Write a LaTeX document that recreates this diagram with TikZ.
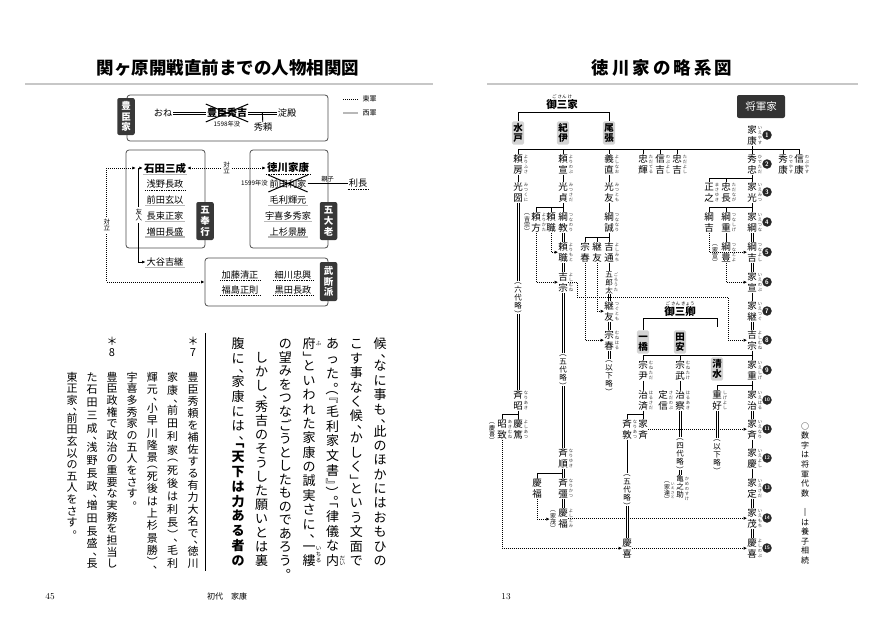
\documentclass[tikz,border=0pt]{standalone}
\usepackage{fontspec}
\usepackage{graphicx}
\usetikzlibrary{arrows.meta,positioning,calc}
\newfontfamily\jp{Noto Sans CJK JP}

% vertical column: one box per character
\makeatletter
\newcount\vc@k
\newdimen\vc@w \newdimen\vc@p
\newif\ifvc@j
\def\vcolfac{1.05}
\def\vc@end{\vc@end}
\def\vb{\vb}
\def\vc@strut{\vrule height.88\vc@w depth.12\vc@w width\z@}
\def\vc@rot#1{\rotatebox[origin=c]{-90}{\hbox to\vc@w{\vc@strut#1\hss}}}
\newcommand\vcol[2][]{%
  \ifx\relax#1\relax\vc@jfalse\let\vc@spec\empty\else\vc@jtrue\def\vc@spec{to#1}\fi
  \vbox\vc@spec{\vc@w=1em\vc@p=\vcolfac em\offinterlineskip
    \vc@loop#2\vc@end\ifvc@j\unskip\fi}}
\def\vc@loop#1{%
  \ifx#1\vc@end\let\vc@next\relax
  \else
    \ifx#1\vb\bfseries\else\vc@char#1\ifvc@j\vfil\fi\fi
    \let\vc@next\vc@loop
  \fi\vc@next}
\def\vc@char#1{%
  \vc@k=0
  \ifx#1、\vc@k=1 \fi\ifx#1。\vc@k=1 \fi
  \ifx#1「\vc@k=2 \fi\ifx#1『\vc@k=2 \fi\ifx#1（\vc@k=2 \fi
  \ifx#1」\vc@k=3 \fi\ifx#1』\vc@k=3 \fi\ifx#1）\vc@k=3 \fi
  \ifcase\vc@k
    \vbox to\vc@p{\vss\hbox to\vc@w{\hss\vc@strut#1\hss}\vss}%
  \or
    \vbox to.5\vc@p{\hbox to\vc@w{\kern.55\vc@w\lower.42\vc@w\hbox to\z@{\smash{#1}\hss}\hss}\vss}%
  \or
    \vbox to.5\vc@p{\vss\hbox to\vc@w{\hss\vc@rot{#1}\hss}\kern\z@}%
  \or
    \vbox to.5\vc@p{\hbox to\vc@w{\hss\vc@rot{#1}\hss}\vss\kern\z@}%
  \fi}
\makeatother

\newcommand\jfs[2]{\jp\fontsize{#1}{#1}\selectfont\def\vcolfac{#2}}
% chart person: name, x, top, kanji, reading
\newcommand\psn[5]{\node[nm] (#1) at (#2,#3) {\vcol{#4}};
  \node[rb] (#1r) at ([xshift=.6pt,yshift=-1pt]#1.north east) {\vcol{#5}};}
\newcommand\psnx[4]{\node[nm] (#1) at (#2,#3) {\vcol{#4}};}
% adoption (double) lines
\newcommand\vdbl[2]{\draw[ln2] ([xshift=-1.1pt]#1.south) -- ([xshift=-1.1pt]#2.north)
  ([xshift=1.1pt]#1.south) -- ([xshift=1.1pt]#2.north);}
\newcommand\hdbl[2]{\draw[ln2] ([yshift=1.1pt]#1.east) -- ([yshift=1.1pt]#2.west)
  ([yshift=-1.1pt]#1.east) -- ([yshift=-1.1pt]#2.west);}

\begin{document}
\begin{tikzpicture}[x=1pt,y=-1pt,>={Latex[length=3.4pt,width=3.2pt]},
 body/.style={anchor=north,inner sep=0pt,font=\jfs{13}{1.04}},
 note/.style={anchor=north,inner sep=0pt,font=\jfs{11}{1.06}},
 rbb/.style={inner sep=0pt,font=\jfs{5.5}{1.05}},
 nm/.style={anchor=north,inner sep=0pt,font=\jfs{9.5}{1.105}},
 rb/.style={anchor=north west,inner sep=0pt,text=black!80,font=\jfs{4.3}{1.15}},
 ann/.style={anchor=north,inner sep=0pt,font=\jfs{6}{1.1}},
 omit/.style={anchor=north,inner sep=0pt,font=\jfs{7.5}{1.1}},
 house/.style={fill=black!17,rounded corners=1.5pt,inner sep=1.4pt,font=\jfs{9.5}{1.07}\bfseries},
 gen/.style={circle,fill=black!85,text=white,inner sep=0pt,minimum size=9.5pt,font=\sffamily\bfseries\fontsize{6.5}{6.5}\selectfont},
 ln/.style={line width=.9pt},
 ln2/.style={line width=.75pt},
 dotarr/.style={dash pattern=on .8pt off 1.2pt,line width=.8pt,->},
 grp/.style={draw=black!70,line width=.8pt,rounded corners=3pt},
 dtab/.style={fill=black!78,text=white,rounded corners=2pt,inner xsep=4pt,inner ysep=2.5pt,font=\jfs{9.5}{1.12}\bfseries},
 pp/.style={inner sep=1pt,font=\jfs{9.2}{1}},
 wn/.style={pp,append after command={(\tikzlastnode.south west) edge[draw=black!28,line width=1.4pt] (\tikzlastnode.south east)}},
 en/.style={pp,append after command={(\tikzlastnode.south west) edge[draw=black,dash pattern=on .7pt off 1pt,line width=.7pt] (\tikzlastnode.south east)}},
 small/.style={inner sep=.5pt,font=\jfs{6.3}{1.05}},
 tz/.style={dash pattern=on .8pt off 1.2pt,line width=.8pt},
 title/.style={font=\jfs{17.5}{1}\bfseries}]
\useasboundingbox (0,0) rectangle (885,629);

% page heads
\node[title] (ttlL) at (228,68) {関ヶ原開戦直前までの人物相関図};
\node[title] (ttlR) at (662,68) {徳\kern3pt 川\kern3pt 家\kern3pt の\kern3pt 略\kern3pt 系\kern3pt 図};
\draw[black!22,line width=2pt] (25,84) -- (433,84);
\draw[black!22,line width=2pt] (487,84) -- (858,84);

%------------------- left page: relation chart
\node[grp,minimum width=201pt,minimum height=46pt] (toyo) at (227.5,118) {};
\node[dtab,minimum height=37pt] (toyotab) at (126,116.5) {\vcol{豊臣家}};
\node[pp] (one) at (163,113) {おね};
\node[pp,font=\jfs{10}{1}\bfseries] (hideyoshi) at (227,113) {豊臣秀吉};
\node[small] (dead1) at (227,124.5) {1598年没};
\node[pp] (yodo) at (287,113) {淀殿};
\node[pp] (hideyori) at (263,127.5) {秀頼};
\hdbl{one}{hideyoshi}
\hdbl{hideyoshi}{yodo}
\draw[ln] ($(hideyoshi.east)!.5!(yodo.west)$) -- (hideyori);
\draw[line width=1pt] ([yshift=3pt]hideyoshi.north west) -- ([yshift=-3pt]hideyoshi.south east)
  ([yshift=-3pt]hideyoshi.south west) -- ([yshift=3pt]hideyoshi.north east);

\node[small,anchor=west,font=\jfs{7}{1}] (legE) at (362,99) {東軍};
\node[small,anchor=west,font=\jfs{7}{1}] (legW) at (362,113) {西軍};
\draw[tz] ([xshift=-4pt]legE.west) -- ++(-15,0);
\draw[black!28,line width=1.4pt] ([xshift=-4pt]legW.west) -- ++(-15,0);

\node[grp,minimum width=79pt,minimum height=98pt] (bugyo) at (165.5,199) {};
\node[dtab,minimum height=38pt] (bugyotab) at (205,221) {\vcol{五奉行}};
\node[wn,font=\jfs{10.5}{1}\bfseries] (ishida) at (165,168) {石田三成};
\node[en] (asano) at (165,184.5) {浅野長政};
\node[wn] (maedag) at (165,200.2) {前田玄以};
\node[wn] (natsuka) at (165,216) {長束正家};
\node[wn] (mashita) at (165,231.7) {増田長盛};
\node[wn] (otani) at (165,262) {大谷吉継};

\node[grp,minimum width=78pt,minimum height=98pt] (tairo) at (289,199) {};
\node[dtab,minimum height=38pt] (tairotab) at (328.5,221) {\vcol{五大老}};
\node[en,font=\jfs{10.5}{1}\bfseries] (ieyasuL) at (288,168) {徳川家康};
\node[pp] (toshiie) at (288,183.5) {前田利家};
\node[small,anchor=east] (dead2) at (toshiie.west) {1599年没};
\node[en] (toshinaga) at (358,183.5) {利長};
\draw[ln] (toshiie) -- (toshinaga) node[midway,above=1pt,small] (oyako) {親子};
\draw[line width=1pt] ([yshift=3pt]toshiie.north west) -- ([yshift=-3pt]toshiie.south east)
  ([yshift=-3pt]toshiie.south west) -- ([yshift=3pt]toshiie.north east);
\node[wn] (mori) at (288,200) {毛利輝元};
\node[wn] (ukita) at (288,216) {宇喜多秀家};
\node[wn] (uesugi) at (288,231.7) {上杉景勝};

\node[grp,minimum width=123pt,minimum height=48pt] (buha) at (266.5,282) {};
\node[dtab,minimum height=39pt] (buhatab) at (328.5,281.5) {\vcol{武断派}};
\node[en] (kato) at (240,275) {加藤清正};
\node[en] (hosokawa) at (293,275) {細川忠興};
\node[en] (fukushima) at (240,290) {福島正則};
\node[en] (kuroda) at (293,290) {黒田長政};

\draw[tz,<->] (ishida) -- (ieyasuL) node[midway,fill=white,inner sep=1pt,font=\jfs{6.5}{1.05}] (tai1) {\vcol{対立}};
\coordinate (yujin) at ([xshift=-4pt]ishida.west);
\draw[ln,<->] (ishida.west) -- (yujin) |- (otani.west) node[pos=.25,fill=white,inner sep=1pt,font=\jfs{6.5}{1.05}] (yujinlbl) {\vcol{友人}};
\draw[tz,<->,shorten <=3pt] (yujin) -- ++(-32,0) |- (buha.west) node[pos=.25,fill=white,inner sep=1pt,font=\jfs{6.5}{1.05}] (tai2) {\vcol{対立}};

%------------------- left page: text
\node[body] (b1) at (380,337) {\vcol[230pt]{候、なに事も、此のほかにはおもひの}};
\node[body] (b2) at (356.3,337) {\vcol[230pt]{こす事なく候、かしく」という文面で}};
\node[body] (b3) at (332.7,337) {\vcol[230pt]{あった。（『毛利家文書』）。「律儀な内}};
\node[body] (b4) at (309,337) {\vcol[230pt]{府」といわれた家康の誠実さに、一縷}};
\node[body] (b5) at (285.3,337) {\vcol{の望みをつなごうとしたものであろう。}};
\node[body] (b6) at (261.7,337) {\vcol[230pt]{　しかし、秀吉のそうした願いとは裏}};
\node[body] (b7) at (238,337) {\vcol[230pt]{腹に、家康には、\vb「天下は力ある者の}};
\node[rbb,anchor=north west] (b4r1) at ([yshift=-3pt]b4.north east) {\vcol{ふ}};
\node[rbb,anchor=south west] (b3r) at ([yshift=.5pt]b3.south east) {\vcol{だい}};
\node[rbb,anchor=south west] (b4r2) at ([yshift=4pt]b4.south east) {\vcol{いちる}};
\draw[line width=.6pt] (205,333) -- (205,571);
\node[note] (s7) at (193,335) {\vcol{＊7}};
\node[note] (n1) at (193,371) {\vcol[198pt]{豊臣秀頼を補佐する有力大名で、徳川}};
\node[note] (n2) at (172.7,371) {\vcol[198pt]{家康、前田利家（死後は利長）、毛利}};
\node[note] (n3) at (152.4,371) {\vcol[198pt]{輝元、小早川隆景（死後は上杉景勝）、}};
\node[note] (n4) at (132.1,371) {\vcol{宇喜多秀家の五人をさす。}};
\node[note] (s8) at (112,335) {\vcol{＊8}};
\node[note] (n5) at (112,371) {\vcol[198pt]{豊臣政権で政治の重要な実務を担当し}};
\node[note] (n6) at (92,371) {\vcol[198pt]{た石田三成、浅野長政、増田長盛、長}};
\node[note] (n7) at (72,371) {\vcol{東正家、前田玄以の五人をさす。}};
\node[font=\rmfamily\fontsize{9}{9}\selectfont] (pg45) at (50,597) {45};
\node[font=\jfs{8}{1}] (runhead) at (227,596) {初代　家康};
\node[font=\rmfamily\fontsize{9}{9}\selectfont] (pg13) at (506,597) {13};

%------------------- right page: family tree
\node[fill=black!80,text=white,rounded corners=2pt,minimum width=48pt,minimum height=23pt,font=\jfs{10.5}{1}] (shogunke) at (761,106.5) {将軍家};
\node[font=\jfs{10.5}{1}\bfseries,inner sep=1pt] (gosanke) at (562,105) {御三家};
\node[above=0pt of gosanke,inner sep=0pt,font=\jfs{4.5}{1}] (gosankeR) {ご\ さん\ け};
\node[house] (mito) at (518,133) {\vcol{水戸}};
\node[house] (kii) at (563,133) {\vcol{紀伊}};
\node[house] (owari) at (609,133) {\vcol{尾張}};
\draw[ln] (mito.north) -- ++(0,-9) -| (owari.north);

\psn{ieyasu}{752}{124.5}{家康}{いえやす}
\psn{yorifusa}{518}{153.5}{頼房}{よりふさ}
\psn{yorinobu}{563}{153.5}{頼宣}{よりのぶ}
\psn{yoshinao}{609}{153.5}{義直}{よしなお}
\psn{tadateru}{643}{153.5}{忠輝}{ただてる}
\psn{nobuyoshi}{660}{153.5}{信吉}{のぶよし}
\psn{tadayoshi}{677}{153.5}{忠吉}{ただよし}
\psn{hidetada}{752}{153.5}{秀忠}{ひでただ}
\psn{hideyasu}{783}{153.5}{秀康}{ひでやす}
\psn{nobuyasu}{799}{153.5}{信康}{のぶやす}
\psn{mitsukuni}{518}{181.5}{光圀}{みつくに}
\psn{mitsusada}{563}{181.5}{光貞}{みつさだ}
\psn{mitsutomo}{609}{181.5}{光友}{みつとも}
\psn{masayuki}{709}{181.5}{正之}{まさゆき}
\psn{tadanaga}{726}{181.5}{忠長}{ただなが}
\psn{iemitsu}{752}{181.5}{家光}{いえみつ}
\psn{yorikata}{536}{211.5}{頼方}{よりかた}
\psnx{yorimotoA}{551}{211.5}{頼職}
\psn{tsunanori}{563}{211.5}{綱教}{つなのり}
\psn{tsunanari}{609}{211.5}{綱誠}{つななり}
\psnx{tsunayoshiA}{709}{211.5}{綱吉}
\psn{tsunashige}{726}{211.5}{綱重}{つなしげ}
\psn{ietsuna}{752}{211.5}{家綱}{いえつな}
\psn{yorimoto}{563}{241.5}{頼職}{よりもと}
\psnx{muneharuA}{585}{241.5}{宗春}
\psnx{tsugutomoA}{597}{241.5}{継友}
\psn{yoshimichi}{609}{241.5}{吉通}{よしみち}
\psn{tsunatoyo}{726}{241.5}{綱豊}{つなとよ}
\psn{tsunayoshi}{752}{241.5}{綱吉}{つなよし}
\psn{yoshimuneK}{563}{271.5}{吉宗}{よしむね}
\node[nm,font=\jfs{7.5}{1.02}] (gorota) at (609,271) {\vcol{五郎太}};
\node[rb] (gorotar) at ([xshift=.6pt,yshift=-1pt]gorota.north east) {\vcol{ごろうた}};
\psn{ienobu}{752}{271.5}{家宣}{いえのぶ}
\psn{tsugutomo}{609}{300.5}{継友}{つぐとも}
\psn{ietsugu}{752}{300.5}{家継}{いえつぐ}
\psn{muneharu}{609}{329.5}{宗春}{むねはる}
\psn{yoshimune}{752}{329.5}{吉宗}{よしむね}
\psn{munetada}{643}{359.5}{宗尹}{むねただ}
\psn{munetake}{680}{359.5}{宗武}{むねたけ}
\psn{ieshige}{752}{359.5}{家重}{いえしげ}
\psn{nariaki}{518}{389.5}{斉昭}{なりあき}
\psn{harusada}{643}{389.5}{治済}{はるさだ}
\psn{sadanobu}{663}{389.5}{定信}{さだのぶ}
\psn{haruaki}{680}{389.5}{治察}{はるあき}
\psn{shigeyoshi}{717}{389.5}{重好}{しげよし}
\psn{ieharu}{752}{389.5}{家治}{いえはる}
\psn{akimune}{502}{418.5}{昭致}{あきむね}
\psn{yoshiatsu}{518}{418.5}{慶篤}{よしあつ}
\psn{nariatsu}{627}{418.5}{斉敦}{なりあつ}
\psnx{ienariH}{643}{418.5}{家斉}
\psn{ienari}{752}{418.5}{家斉}{いえなり}
\psn{nariyuki}{563}{447.5}{斉順}{なりゆき}
\psn{ieyoshi}{752}{447.5}{家慶}{いえよし}
\psnx{yoshitomiA}{537}{477.5}{慶福}
\psn{narikatsu}{563}{477.5}{斉彊}{なりかつ}
\node[nm,font=\jfs{7.5}{1.02}] (kamenosuke) at (680,475) {\vcol{亀之助}};
\node[rb] (kamenosuker) at ([xshift=.6pt,yshift=-1pt]kamenosuke.north east) {\vcol{かめのすけ}};
\psn{iesada}{752}{477.5}{家定}{いえさだ}
\psn{yoshitomi}{563}{507.5}{慶福}{よしとみ}
\psn{iemochi}{752}{507.5}{家茂}{いえもち}
\psnx{yoshinobuH}{627}{537.5}{慶喜}
\psn{yoshinobu}{752}{537.5}{慶喜}{よしのぶ}

% notes in brackets
\node[ann] (annY) at (527,212) {\vcol{（吉宗）}};
\node[ann] (annN) at (715,243) {\vcol{（家宣）}};
\node[ann] (annK) at (492,421) {\vcol{（慶喜）}};
\node[ann] (annM) at (553,509) {\vcol{（家茂）}};
\node[ann] (annS) at (667,480) {\vcol{（家達）}};
\node[rb,font=\jfs{3.8}{1.1}] (annSr) at ([xshift=.4pt,yshift=-2pt]annS.north east) {\vcol{いえさと}};
\node[omit] (om1) at (518,281) {\vcol{（六代略）}};
\node[omit] (om2) at (563,353) {\vcol{（五代略）}};
\node[omit] (om3) at (609,359) {\vcol{（以下略）}};
\node[omit] (om4) at (680,437) {\vcol{（四代略）}};
\node[omit] (om5) at (717,438) {\vcol{（以下略）}};
\node[omit] (om6) at (627,473) {\vcol{（五代略）}};

% gosankyo
\node[font=\jfs{10.5}{1}\bfseries,inner sep=1pt] (gosankyo) at (680,312) {御三卿};
\node[above=0pt of gosankyo,inner sep=0pt,font=\jfs{4.5}{1}] (gosankyoR) {ご\ さん\ きょう};
\node[house] (hitotsubashi) at (643,342) {\vcol{一橋}};
\node[house] (tayasu) at (680,342) {\vcol{田安}};
\node[house] (shimizu) at (717,369) {\vcol{清水}};
\coordinate (kyoR) at (717,327);
\draw[ln] (hitotsubashi.north) -- ++(0,-12) -| (kyoR);

% children of Ieyasu
\coordinate (r2) at (752,149.5);
\draw[ln] (yorifusa.north) |- (r2) -| (nobuyasu.north);
\foreach \n in {yorinobu,yoshinao,tadateru,nobuyoshi,tadayoshi,hideyasu}
  \draw[ln] (\n.north) -- (\n.north |- r2);

% shogun line
\foreach \a/\b in {ieyasu/hidetada,hidetada/iemitsu,iemitsu/ietsuna,ienobu/ietsugu,
  yoshimune/ieshige,ieshige/ieharu,ienari/ieyoshi,ieyoshi/iesada}
  \draw[ln] (\a.south) -- (\b.north);
\foreach \a/\b in {ietsuna/tsunayoshi,tsunayoshi/ienobu,ietsugu/yoshimune,
  ieharu/ienari,iesada/iemochi,iemochi/yoshinobu}
  {\vdbl{\a}{\b}}
\draw[ln] (masayuki.north) |- ($(hidetada.south)!.5!(iemitsu.north)$);
\draw[ln] (tadanaga.north) -- ++(0,-3.5);
\draw[ln] (tsunayoshiA.north) |- ($(iemitsu.south)!.5!(ietsuna.north)$);
\draw[ln] (tsunashige.north) -- ++(0,-4);
\draw[ln] (tsunashige.south) -- (tsunatoyo.north);
\draw[ln] (munetada.north) |- ($(yoshimune.south)!.5!(ieshige.north)$);
\draw[ln] (munetake.north) -- ++(0,-4.5);
\draw[ln] (shigeyoshi.north) |- ($(ieshige.south)!.5!(ieharu.north)$);

% Mito
\draw[ln] (yorifusa.south) -- (mitsukuni.north);
\vdbl{mitsukuni}{om1}
\vdbl{om1}{nariaki}
\draw[ln] (nariaki.south) -- (yoshiatsu.north);
\draw[ln] (akimune.north) |- ($(nariaki.south)!.5!(yoshiatsu.north)$);

% Kii
\draw[ln] (yorinobu.south) -- (mitsusada.north);
\draw[ln] (mitsusada.south) -- (tsunanori.north);
\draw[ln] (yorikata.north) |- ($(mitsusada.south)!.5!(tsunanori.north)$);
\draw[ln] (yorimotoA.north) -- ++(0,-4);
\vdbl{tsunanori}{yorimoto}
\vdbl{yorimoto}{yoshimuneK}
\vdbl{yoshimuneK}{om2}
\vdbl{om2}{nariyuki}
\vdbl{nariyuki}{narikatsu}
\draw[ln] (yoshitomiA.north) |- ($(nariyuki.south)!.5!(narikatsu.north)$);
\vdbl{narikatsu}{yoshitomi}

% Owari
\draw[ln] (yoshinao.south) -- (mitsutomo.north);
\draw[ln] (mitsutomo.south) -- (tsunanari.north);
\draw[ln] (tsunanari.south) -- (yoshimichi.north);
\draw[ln] (muneharuA.north) |- ($(tsunanari.south)!.5!(yoshimichi.north)$);
\draw[ln] (tsugutomoA.north) -- ++(0,-4);
\draw[ln] (yoshimichi.south) -- (gorota.north);
\vdbl{gorota}{tsugutomo}
\vdbl{tsugutomo}{muneharu}
\vdbl{muneharu}{om3}

% gosankyo lines
\draw[ln] (munetada.south) -- (harusada.north);
\draw[ln] (munetake.south) -- (haruaki.north);
\draw[ln] (harusada.south) -- (ienariH.north);
\draw[ln] (nariatsu.north) |- ($(harusada.south)!.5!(ienariH.north)$);
\draw[ln] (nariatsu.south) -- (om6.north);
\vdbl{om6}{yoshinobuH}
\vdbl{haruaki}{om4}
\vdbl{om4}{kamenosuke}
\vdbl{shigeyoshi}{om5}

% adoptions
\draw[dotarr] (tsunayoshiA.south) |- (tsunayoshi.west);
\draw[dotarr] (tsunatoyo.south) |- (ienobu.west);
\draw[dotarr] (yorimotoA.south) |- (yorimoto.west);
\draw[dotarr] (yorikata.south) |- (yoshimuneK.west);
\draw[dotarr] (yoshimuneK.east) -| (577,297) -| (728,320) |- (yoshimune.west);
\draw[dotarr] (tsugutomoA.south) |- (tsugutomo.west);
\draw[dotarr] (muneharuA.south) |- (muneharu.west);
\draw[dotarr] (ienariH.east) -- (ienari.west);
\draw[dotarr] (yoshitomiA.south) |- (annM.west);
\draw[dotarr] (yoshitomi.east) -- (iemochi.west);
\draw[dotarr] (akimune.south) |- (yoshinobuH.west);
\draw[dotarr] (yoshinobuH.east) -- (yoshinobu.west);

% generation numbers
\foreach \c [count=\i] in {135,164,192,222,252,282,311,340,370,400,429,458,488,518,548}
  \node[gen] (g\i) at (767,\c) {\ifnum\i>9 \fontsize{5}{5}\selectfont\fi\i};
\node[anchor=north,inner sep=0pt,font=\jfs{8}{1.2}] (legend) at (805,421) {\vcol{○数字は将軍代数　‖は養子相続}};
\end{tikzpicture}
\end{document}
